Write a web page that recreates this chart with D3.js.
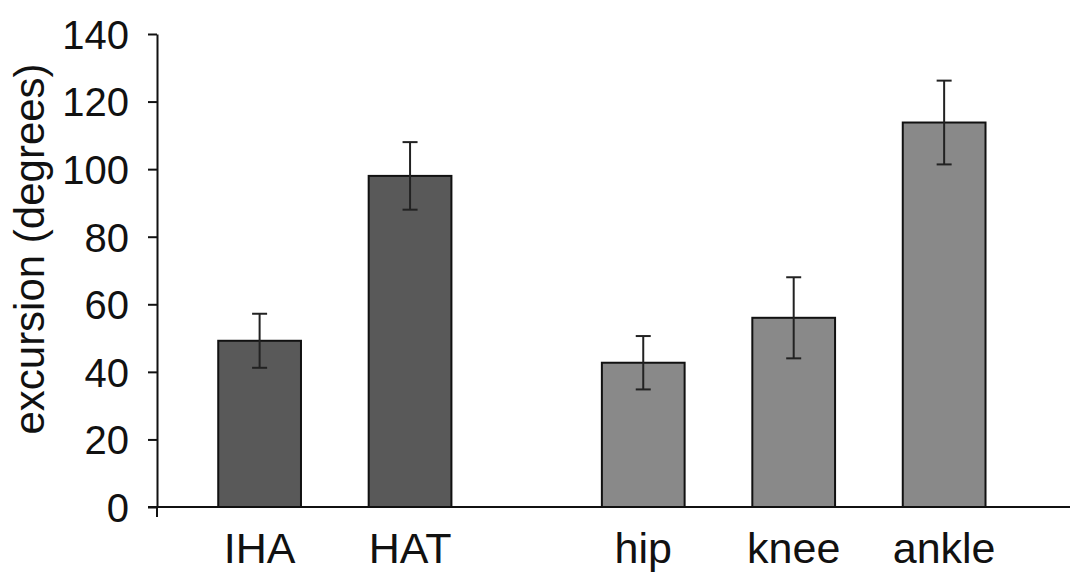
<!DOCTYPE html>
<html>
<head>
    <meta charset="utf-8">
    <style>
        body { margin: 0; background: #fff; }
        svg { display: block; }
        .tick text, .cat-label, .y-label {
            font-family: Arial, "Liberation Sans", Helvetica, sans-serif;
            fill: #111;
        }
    </style>
</head>
<body>
    <div id="container"></div>
    <script src="https://d3js.org/d3.v7.min.js"></script>
    <script>
        // values
        var categories = ["IHA", "HAT", "hip", "knee", "ankle"];
        var groups = [0, 0, 1, 1, 1];
        var means = [49.2, 98, 42.7, 56, 113.8];
        var errors = [8, 10, 7.9, 12, 12.4];
        var yTicks = [0, 20, 40, 60, 80, 100, 120, 140];
        var yLabel = "excursion (degrees)";

        var width = 1074, height = 577;
        var axisX = 157, axisY = 507, topY = 34;
        var groupColors = ["#595959", "#898989"];

        var svg = d3.select("#container").append("svg")
            .attr("width", width)
            .attr("height", height);

        var y = d3.scaleLinear().domain([0, 140]).range([axisY, topY]);

        var x = d3.scaleBand()
            .domain(categories)
            .range([axisX, 964])
            .paddingInner(0.45)
            .paddingOuter(0.407);

        // second group is pushed right by one bar width
        function barLeft(d, i) {
            return x(d) + groups[i] * x.bandwidth();
        }
        function barMid(d, i) {
            return barLeft(d, i) + x.bandwidth() / 2;
        }

        // y axis
        var yAxis = svg.append("g")
            .attr("transform", "translate(" + axisX + ",0)")
            .call(d3.axisLeft(y).tickValues(yTicks).tickSize(9).tickPadding(19).tickSizeOuter(0));
        yAxis.select(".domain").attr("stroke", "#111").attr("stroke-width", 2);
        yAxis.selectAll(".tick line").attr("stroke", "#111").attr("stroke-width", 2);
        yAxis.selectAll(".tick text").style("font-size", "40px").attr("dy", "0.36em");

        // x axis line + little tick below the origin
        svg.append("line")
            .attr("x1", axisX - 9).attr("x2", 1070)
            .attr("y1", axisY).attr("y2", axisY)
            .attr("stroke", "#111").attr("stroke-width", 2);
        svg.append("line")
            .attr("x1", axisX).attr("x2", axisX)
            .attr("y1", axisY).attr("y2", axisY + 10)
            .attr("stroke", "#111").attr("stroke-width", 2);

        // bars
        svg.append("g")
            .selectAll("rect")
            .data(categories)
            .join("rect")
            .attr("x", barLeft)
            .attr("y", (d, i) => y(means[i]))
            .attr("width", x.bandwidth())
            .attr("height", (d, i) => y(0) - y(means[i]))
            .attr("fill", (d, i) => groupColors[groups[i]])
            .attr("stroke", "#111")
            .attr("stroke-width", 2);

        // error bars
        var err = svg.append("g")
            .attr("stroke", "#222")
            .attr("stroke-width", 2)
            .selectAll("g")
            .data(categories)
            .join("g");

        err.append("line")
            .attr("x1", barMid).attr("x2", barMid)
            .attr("y1", (d, i) => y(means[i] + errors[i]))
            .attr("y2", (d, i) => y(means[i] - errors[i]));
        err.append("line")
            .attr("x1", (d, i) => barMid(d, i) - 7.5)
            .attr("x2", (d, i) => barMid(d, i) + 7.5)
            .attr("y1", (d, i) => y(means[i] + errors[i]))
            .attr("y2", (d, i) => y(means[i] + errors[i]));
        err.append("line")
            .attr("x1", (d, i) => barMid(d, i) - 7.5)
            .attr("x2", (d, i) => barMid(d, i) + 7.5)
            .attr("y1", (d, i) => y(means[i] - errors[i]))
            .attr("y2", (d, i) => y(means[i] - errors[i]));

        // category labels
        svg.append("g")
            .selectAll("text")
            .data(categories)
            .join("text")
            .attr("class", "cat-label")
            .attr("x", barMid)
            .attr("y", 563)
            .attr("text-anchor", "middle")
            .style("font-size", "43px")
            .text(d => d);

        // y axis title
        svg.append("text")
            .attr("class", "y-label")
            .attr("transform", "translate(44,249) rotate(-90)")
            .attr("text-anchor", "middle")
            .style("font-size", "42px")
            .text(yLabel);
    </script>
</body>
</html>
